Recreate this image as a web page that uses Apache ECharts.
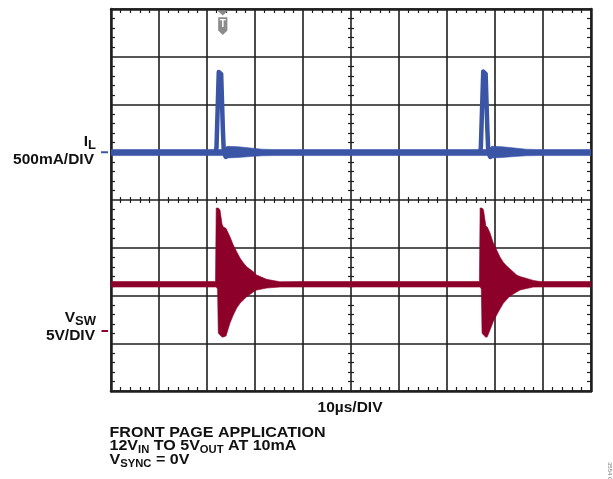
<!DOCTYPE html>
<html><head><meta charset="utf-8">
<script src="https://cdn.jsdelivr.net/npm/echarts@6/dist/echarts.min.js"></script>
<style>html,body{margin:0;padding:0;background:#fff}#c{width:613px;height:479px}</style>
</head><body><div id="c"></div>
<script>
// ---- I_L trace (mA, 500mA/DIV) ----
const ilTime  = [0, 23.4, 24.2, 26.5, 29.0, 31.5, 34.0, 78.6, 79.3, 81.5, 84.0, 86.5, 89.0, 100];
const ilUpper = [28, 28, 62, 58, 45, 32, 28, 28, 62, 58, 45, 32, 28, 28];
const ilLower = [-35, -35, -60, -55, -45, -37, -35, -35, -60, -55, -45, -37, -35, -35];
const spikeTime    = [0, 21.8, 21.98, 22.45, 22.7, 22.95, 23.3, 23.5, 23.9, 24.2, 24.5, 76.9, 77.05, 77.55, 77.8, 78.05, 78.4, 78.6, 79.0, 79.3, 79.6, 100];
const spikeCurrent = [0, 0, 50, 840, 855, 820, 250, 0, -50, -40, 0, 0, 50, 845, 855, 820, 250, 0, -50, -40, 0, 0];
// ---- V_SW trace (V, 5V/DIV), ringing envelope ----
const vswTime  = [0, 21.77, 21.92, 22.2, 22.35, 22.71, 23.13, 23.4, 23.96, 24.79, 25.48, 26.19, 26.88, 27.56, 28.27, 29.65, 30.35, 32.44, 35.2, 39.4,
                  76.75, 76.9, 77.15, 77.3, 77.6, 78.1, 78.4, 78.96, 79.65, 80.35, 81.04, 81.73, 82.44, 83.13, 84.52, 85.21, 86.6, 87.98, 89.4, 100];
const vswUpper = [5.18, 5.18, 12.88, 12.88, 12.88, 12.67, 11.2, 10.89, 10.75, 9.87, 9.0, 8.3, 7.64, 7.15, 6.73, 6.21, 5.86, 5.41, 5.16, 5.18,
                  5.18, 12.88, 12.88, 12.88, 12.7, 11.0, 10.89, 10.26, 9.21, 8.48, 7.75, 7.2, 6.81, 6.5, 5.86, 5.7, 5.51, 5.3, 5.18, 5.18];
const vswLower = [4.61, 4.61, 4.61, 4.4, -0.21, -0.42, -0.63, -0.63, -0.52, 0.84, 1.68, 2.41, 2.9, 3.25, 3.59, 4.08, 4.29, 4.50, 4.61, 4.61,
                  4.61, 4.61, 4.4, -0.21, -0.42, -0.66, -0.6, 0.1, 1.0, 1.68, 2.3, 2.9, 3.3, 3.66, 4.08, 4.29, 4.45, 4.6, 4.61, 4.61];
const triggerTime = 23.29;
const timeMin = 0, timeMax = 100, timeStep = 10;          // 10µs/DIV
const ilMin = -2500, ilMax = 1500, ilStep = 500;          // 500mA/DIV
const vMin = -6.28, vMax = 33.72;                         // 5V/DIV

const BLUE = '#3b55a6', RED = '#8d0029', GRID = '#1e1e1e';
const FONT = '"Liberation Sans", Arial, Helvetica, sans-serif';

const chart = echarts.init(document.getElementById('c'), null, {renderer: 'canvas'});

function xAx(pos, extra) {
  return Object.assign({
    type: 'value', min: timeMin, max: timeMax, interval: timeStep, position: pos,
    axisLine: {show: true, onZero: false, lineStyle: {color: GRID, width: 2.5}},
    axisTick: {show: false, inside: true},
    minorTick: {show: true, splitNumber: 5, length: 4, lineStyle: {color: GRID, width: 1.2}},
    axisLabel: {show: false}, splitLine: {show: false}
  }, extra || {});
}
function yAx(pos, extra) {
  return Object.assign({
    type: 'value', min: ilMin, max: ilMax, interval: ilStep, position: pos,
    axisLine: {show: true, onZero: false, lineStyle: {color: GRID, width: 2.5}},
    axisTick: {show: false, inside: true},
    minorTick: {show: true, splitNumber: 5, length: 4, lineStyle: {color: GRID, width: 1.2}},
    axisLabel: {show: false}, splitLine: {show: false}
  }, extra || {});
}
const centerX = {axisLine: {show: false, onZero: false}, offset: -191, minorTick: {show: true, splitNumber: 5, length: 3, lineStyle: {color: GRID, width: 1.2}}};
const centerY = {axisLine: {show: false, onZero: false}, offset: -240, minorTick: {show: true, splitNumber: 5, length: 3, lineStyle: {color: GRID, width: 1.2}}};

// envelope band drawn as one polygon: upper edge forward, lower edge back
function bandSeries(name, t, up, lo, yIdx, color) {
  return {
    type: 'custom', name: name, yAxisIndex: yIdx, silent: true, clip: true,
    encode: {x: [0, 1]},
    data: [[t[0], t[t.length - 1]]],
    renderItem: function (params, api) {
      const pts = [];
      for (let i = 0; i < t.length; i++) pts.push(api.coord([t[i], up[i]]));
      for (let i = t.length - 1; i >= 0; i--) pts.push(api.coord([t[i], lo[i]]));
      return {type: 'polygon', shape: {points: pts},
              style: {fill: color, stroke: color, lineWidth: 0.6}};
    }
  };
}

chart.setOption({
  animation: false,
  grid: {left: 111, top: 9, width: 480, height: 382, containLabel: false},
  xAxis: [
    xAx('bottom', {splitLine: {show: true, lineStyle: {color: GRID, width: 1.6}}}),
    xAx('top'),
    xAx('bottom', Object.assign({axisTick: {show: false, inside: true}}, centerX)),
    xAx('bottom', Object.assign({axisTick: {show: false, inside: false}}, centerX))
  ],
  yAxis: [
    yAx('left', {splitLine: {show: true, lineStyle: {color: GRID, width: 1.6}}}),
    yAx('right'),
    yAx('left', Object.assign({axisTick: {show: false, inside: true}}, centerY)),
    yAx('left', Object.assign({axisTick: {show: false, inside: false}}, centerY)),
    {type: 'value', min: vMin, max: vMax, show: false, splitLine: {show: false}}
  ],
  series: [
    bandSeries('VSW', vswTime, vswUpper, vswLower, 4, RED),
    bandSeries('IL', ilTime, ilUpper, ilLower, 0, BLUE),
    {type: 'line', yAxisIndex: 0, symbol: 'none', silent: true,
     data: spikeTime.map((t, i) => [t, spikeCurrent[i]]), lineStyle: {color: BLUE, width: 4.5, join: 'round'}}
  ]
});

// Annotations positioned through the chart's own scales
const x0 = chart.convertToPixel({xAxisIndex: 0}, timeMin);
const xc = chart.convertToPixel({xAxisIndex: 0}, (timeMin + timeMax) / 2);
const xt = chart.convertToPixel({xAxisIndex: 0}, triggerTime);
const yTop = chart.convertToPixel({yAxisIndex: 0}, ilMax);
const yBot = chart.convertToPixel({yAxisIndex: 0}, ilMin);
const yI0 = chart.convertToPixel({yAxisIndex: 0}, 0);
const yV0 = chart.convertToPixel({yAxisIndex: 4}, 0);

const mainS = {fontFamily: FONT, fontWeight: 'bold', fontSize: 15.5, lineHeight: 20, verticalAlign: 'middle', fill: '#111', color: '#111'};
const subL = {fontFamily: FONT, fontWeight: 'bold', fontSize: 13, lineHeight: 9, verticalAlign: 'bottom', fill: '#111', color: '#111'};
const mainB = {fontFamily: FONT, fontWeight: 'bold', fontSize: 15, lineHeight: 20, verticalAlign: 'middle', fill: '#111', color: '#111'};
const subB = {fontFamily: FONT, fontWeight: 'bold', fontSize: 10.5, lineHeight: 10, verticalAlign: 'bottom', fill: '#111', color: '#111'};

function txt(x, y, text, align, rich, font, sx) {
  return {type: 'text', z: 100, x: x, y: y, scaleX: sx || 1,
    style: {x: 0, y: 0, text: text, align: align, verticalAlign: 'middle',
    font: font || ('bold 15.5px ' + FONT), fill: '#111', rich: rich}};
}

chart.setOption({
  graphic: [
    {type: 'line', z: 100, shape: {x1: x0 - 10, y1: yI0, x2: x0 - 3, y2: yI0}, style: {stroke: BLUE, lineWidth: 2}},
    {type: 'line', z: 100, shape: {x1: x0 - 9.5, y1: yV0, x2: x0 - 3, y2: yV0}, style: {stroke: RED, lineWidth: 2}},
    txt(x0 - 15, yI0 - 10.5, '{n|I}{s|L}', 'right', {n: mainS, s: subL}),
    txt(x0 - 17, yI0 + 7, '500mA/DIV', 'right'),
    txt(x0 - 15, yV0 - 13, '{n|V}{s|SW}', 'right', {n: mainS, s: subL}),
    txt(x0 - 16, yV0 + 5, '5V/DIV', 'right'),
    txt(xc - 1, yBot + 17, '10µs/DIV', 'center'),
    txt(x0 - 1.5, yBot + 41.5, '{n|FRONT PAGE APPLICATION}', 'left', {n: mainB}, null, 1.07),
    txt(x0 - 1.5, yBot + 55, '{n|12V}{s|IN}{n| TO 5V}{s|OUT}{n| AT 10mA}', 'left', {n: mainB, s: subB}, null, 1.07),
    txt(x0 - 1.5, yBot + 68.5, '{n|V}{s|SYNC}{n| = 0V}', 'left', {n: mainB, s: subB}, null, 1.07),
    {type: 'polygon', z: 100, shape: {points: [[xt - 5.5, yTop + 1.5], [xt + 5.5, yTop + 1.5], [xt, yTop + 6.5]]}, style: {fill: '#8b8b8b'}},
    {type: 'polygon', z: 100, shape: {points: [[xt - 4.6, yTop + 8.3], [xt + 4.6, yTop + 8.3], [xt + 4.6, yTop + 21.5], [xt, yTop + 26], [xt - 4.6, yTop + 21.5]]}, style: {fill: '#8b8b8b'}},
    {type: 'text', z: 101, style: {x: xt, y: yTop + 15.5, text: 'T', align: 'center', verticalAlign: 'middle', font: 'bold 10px ' + FONT, fill: '#fff'}},
    {type: 'text', z: 100, rotation: -Math.PI / 2, x: 610, y: 462, style: {x: 0, y: 0, text: '3554 G01', align: 'left', verticalAlign: 'middle', font: '6px ' + FONT, fill: '#777'}}
  ]
});
</script></body></html>
